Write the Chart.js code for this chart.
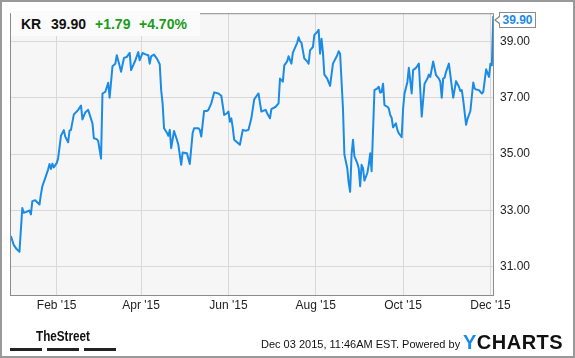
<!DOCTYPE html>
<html>
<head>
<meta charset="utf-8">
<script src="https://cdn.jsdelivr.net/npm/chart.js@4.4.0/dist/chart.umd.min.js"></script>
<style>
  body { margin: 0; background: #fff; }
  #wrap { position: relative; width: 575px; height: 358px; font-family: "Liberation Sans", Arial, sans-serif; }
  #frame { position: absolute; left: 0; top: 0; width: 575px; height: 358px; box-sizing: border-box; border: 2px solid #999; pointer-events: none; }
  .abs { position: absolute; white-space: nowrap; line-height: 1; }
  #head { position: absolute; left: 11px; top: 11px; width: 189px; height: 25px; background: #fbfbfb; }
  .hd { font-size: 14px; font-weight: bold; top: 17px; }
  .up { color: #1c9c1c; }
  #tag { position: absolute; left: 499px; top: 12px; width: 35px; height: 14px; border: 1px solid #8a8a8a; background: #fff;
         color: #1a8be6; font-weight: bold; font-size: 12px; line-height: 14px; text-align: center; }
  #tag:before { content: ""; position: absolute; left: -6px; top: 3px; border-top: 4px solid transparent; border-bottom: 4px solid transparent; border-right: 5px solid #8a8a8a; }
  #tag:after { content: ""; position: absolute; left: -4px; top: 4px; border-top: 3px solid transparent; border-bottom: 3px solid transparent; border-right: 4px solid #fff; }
  .bar { position: absolute; top: 348px; height: 3px; background: #222; }
</style>
</head>
<body>
<div id="wrap">
  <canvas id="kr" width="575" height="358"></canvas>
  <div id="head"></div>
  <div class="abs hd" style="left:21px;color:#111">KR</div>
  <div class="abs hd" style="left:51px;color:#111">39.90</div>
  <div class="abs hd up" style="left:95px">+1.79</div>
  <div class="abs hd up" style="left:139px">+4.70%</div>
  <div id="tag">39.90</div>
  <div class="abs" style="left:36px;top:328px;font-size:15px;font-weight:bold;color:#111;transform:scaleX(0.78);transform-origin:left top">TheStreet</div>
  <div class="bar" style="left:10px;width:32px"></div>
  <div class="bar" style="left:47px;width:32px"></div>
  <div class="bar" style="left:84px;width:32px"></div>
  <div class="abs" style="left:261px;top:339px;font-size:11px;color:#111">Dec 03 2015, 11:46AM EST. Powered by</div>
  <div class="abs" style="left:463px;top:332px;font-size:20px;font-weight:bold;letter-spacing:0.5px;color:#111"><span style="color:#1a8be6">Y</span>CHARTS</div>
  <div id="frame"></div>
</div>
<script>
// days since 1 Jan 2015 and closing price of KR
const days = [-1, 1, 3, 5, 7, 8, 10, 12, 13, 14, 16, 19, 20, 21, 23, 25, 26, 27, 28, 29,
  31, 32, 34, 36, 37, 39, 40, 41, 43, 45, 46, 48, 49, 51, 53, 54, 56, 57, 59, 60,
  62, 63, 65, 67, 68, 70, 72, 73, 75, 76, 78, 80, 82, 83, 86, 88, 89, 91, 93, 95,
  96, 97, 99, 101, 103, 104, 105, 106, 108, 109, 110, 111, 113, 115, 116, 118, 119, 122, 124, 126,
  127, 130, 131, 132, 134, 136, 137, 139, 141, 144, 146, 148, 150, 151, 152, 153, 154, 155, 157, 159,
  161, 163, 165, 167, 169, 171, 172, 174, 177, 178, 180, 181, 184, 186, 187, 189, 190, 192, 193, 195,
  196, 199, 200, 201, 202, 204, 206, 207, 208, 210, 211, 213, 214, 215, 216, 217, 218, 220, 222, 224,
  227, 228, 229, 231, 232, 234, 235, 236, 237, 238, 239, 241, 242, 243, 244, 245, 246, 248, 249, 250,
  251, 253, 255, 256, 257, 258, 259, 260, 262, 263, 264, 265, 266, 268, 269, 270, 272, 273, 274, 276,
  277, 279, 280, 282, 283, 284, 286, 288, 290, 291, 292, 294, 296, 298, 299, 300, 301, 302, 303, 305,
  308, 310, 312, 313, 314, 315, 317, 318, 320, 322, 323, 324, 326, 328, 329, 331, 333, 334, 335, 336];
const prices = [32.09, 31.78, 31.63, 31.53, 33.09, 32.92, 32.95, 33.00, 32.86, 33.33, 33.36, 33.21, 33.57, 33.86, 34.15, 34.45, 34.65, 34.47, 34.66, 34.53,
  34.68, 34.84, 35.65, 35.85, 35.62, 35.42, 35.83, 35.86, 36.41, 36.51, 36.57, 36.72, 36.23, 36.48, 36.57, 36.41, 36.09, 35.56, 35.53, 35.47,
  34.84, 37.15, 37.21, 37.53, 37.00, 38.12, 38.21, 38.51, 38.13, 37.92, 38.41, 38.45, 38.59, 37.98, 38.33, 38.62, 38.33, 38.59, 38.54, 38.51,
  38.21, 38.47, 38.53, 38.39, 38.19, 37.27, 36.80, 35.92, 35.76, 35.65, 35.86, 35.21, 35.82, 35.51, 35.33, 34.62, 35.06, 35.03, 34.65, 35.75,
  35.92, 35.92, 35.86, 35.62, 36.53, 36.53, 36.57, 36.80, 37.19, 37.15, 37.07, 36.39, 36.45, 36.51, 36.15, 36.27, 35.94, 35.51, 35.42, 35.33,
  35.86, 35.83, 35.86, 36.27, 36.94, 37.09, 37.15, 36.51, 36.57, 36.45, 36.27, 36.60, 36.68, 36.80, 37.68, 37.57, 38.15, 38.29, 38.47, 38.21,
  38.60, 38.95, 39.15, 39.00, 38.95, 38.39, 38.29, 38.21, 38.68, 38.80, 39.23, 39.33, 39.41, 38.56, 39.09, 38.62, 37.82, 37.68, 37.42, 38.21,
  38.51, 38.65, 38.56, 36.62, 34.98, 34.50, 33.98, 33.66, 34.98, 35.51, 34.92, 34.68, 34.50, 33.86, 34.62, 34.50, 34.06, 34.33, 34.62, 35.03,
  34.39, 37.27, 37.33, 37.39, 37.18, 37.21, 37.50, 36.74, 36.68, 36.62, 36.39, 36.29, 35.95, 36.09, 35.86, 35.74, 35.60, 36.62, 37.15, 37.56,
  38.06, 37.15, 37.98, 38.06, 38.13, 38.21, 36.33, 37.50, 37.68, 37.82, 37.74, 38.29, 37.80, 37.68, 37.56, 37.00, 37.68, 37.71, 37.92, 38.21,
  37.00, 37.59, 37.39, 37.24, 37.27, 36.92, 36.04, 36.25, 36.53, 37.54, 37.33, 37.29, 37.27, 37.15, 37.21, 38.01, 37.74, 38.21, 38.15, 39.90];

const tickDays = [31, 90, 151, 212, 273, 334];
const tickLabels = ["Feb '15", "Apr '15", "Jun '15", "Aug '15", "Oct '15", "Dec '15"];
const yTicks = [31, 33, 35, 37, 39];

const plotFrame = {
  id: 'plotFrame',
  beforeDraw(chart) {
    const { ctx, chartArea: a } = chart;
    ctx.save();
    ctx.fillStyle = '#f6f6f6';
    ctx.fillRect(a.left, a.top, a.right - a.left, a.bottom - a.top);
    ctx.restore();
  },
  afterDraw(chart) {
    const { ctx, chartArea: a } = chart;
    ctx.save();
    ctx.strokeStyle = '#8c8c8c';
    ctx.lineWidth = 1;
    ctx.strokeRect(a.left + 0.5, a.top + 0.5, a.right - a.left - 1, a.bottom - a.top);
    ctx.restore();
  }
};

const ctx = document.getElementById('kr').getContext('2d');
const krChart = new Chart(ctx, {
  type: 'line',
  data: {
    datasets: [{
      data: days.map((d, i) => ({ x: d, y: prices[i] })),
      borderColor: '#1a8be6',
      borderWidth: 2,
      pointRadius: 0,
      tension: 0,
      borderJoinStyle: 'round',
      fill: false
    }]
  },
  options: {
    responsive: false,
    devicePixelRatio: 1,
    animation: false,
    layout: { padding: { left: 10, top: 10, right: 0, bottom: 0 } },
    plugins: { legend: { display: false }, tooltip: { enabled: false } },
    scales: {
      x: {
        type: 'linear',
        min: -1.6,
        max: 336.5,
        afterBuildTicks: s => { s.ticks = tickDays.map(v => ({ value: v })); },
        afterFit: s => { s.height = 63; },
        grid: { color: '#d8d8d8', drawTicks: false },
        border: { display: false },
        ticks: {
          autoSkip: false,
          maxRotation: 0,
          padding: 3,
          color: '#222',
          font: { family: 'Liberation Sans, Arial', size: 12 },
          callback: v => tickLabels[tickDays.indexOf(v)]
        }
      },
      y: {
        position: 'right',
        min: 30,
        max: 40,
        afterBuildTicks: s => { s.ticks = yTicks.map(v => ({ value: v })); },
        afterFit: s => { s.width = 81; },
        grid: { color: '#d8d8d8', drawTicks: false },
        border: { display: false },
        ticks: {
          padding: 6,
          color: '#222',
          font: { family: 'Liberation Sans, Arial', size: 12 },
          callback: v => v.toFixed(2)
        }
      }
    }
  },
  plugins: [plotFrame]
});
</script>
</body>
</html>
